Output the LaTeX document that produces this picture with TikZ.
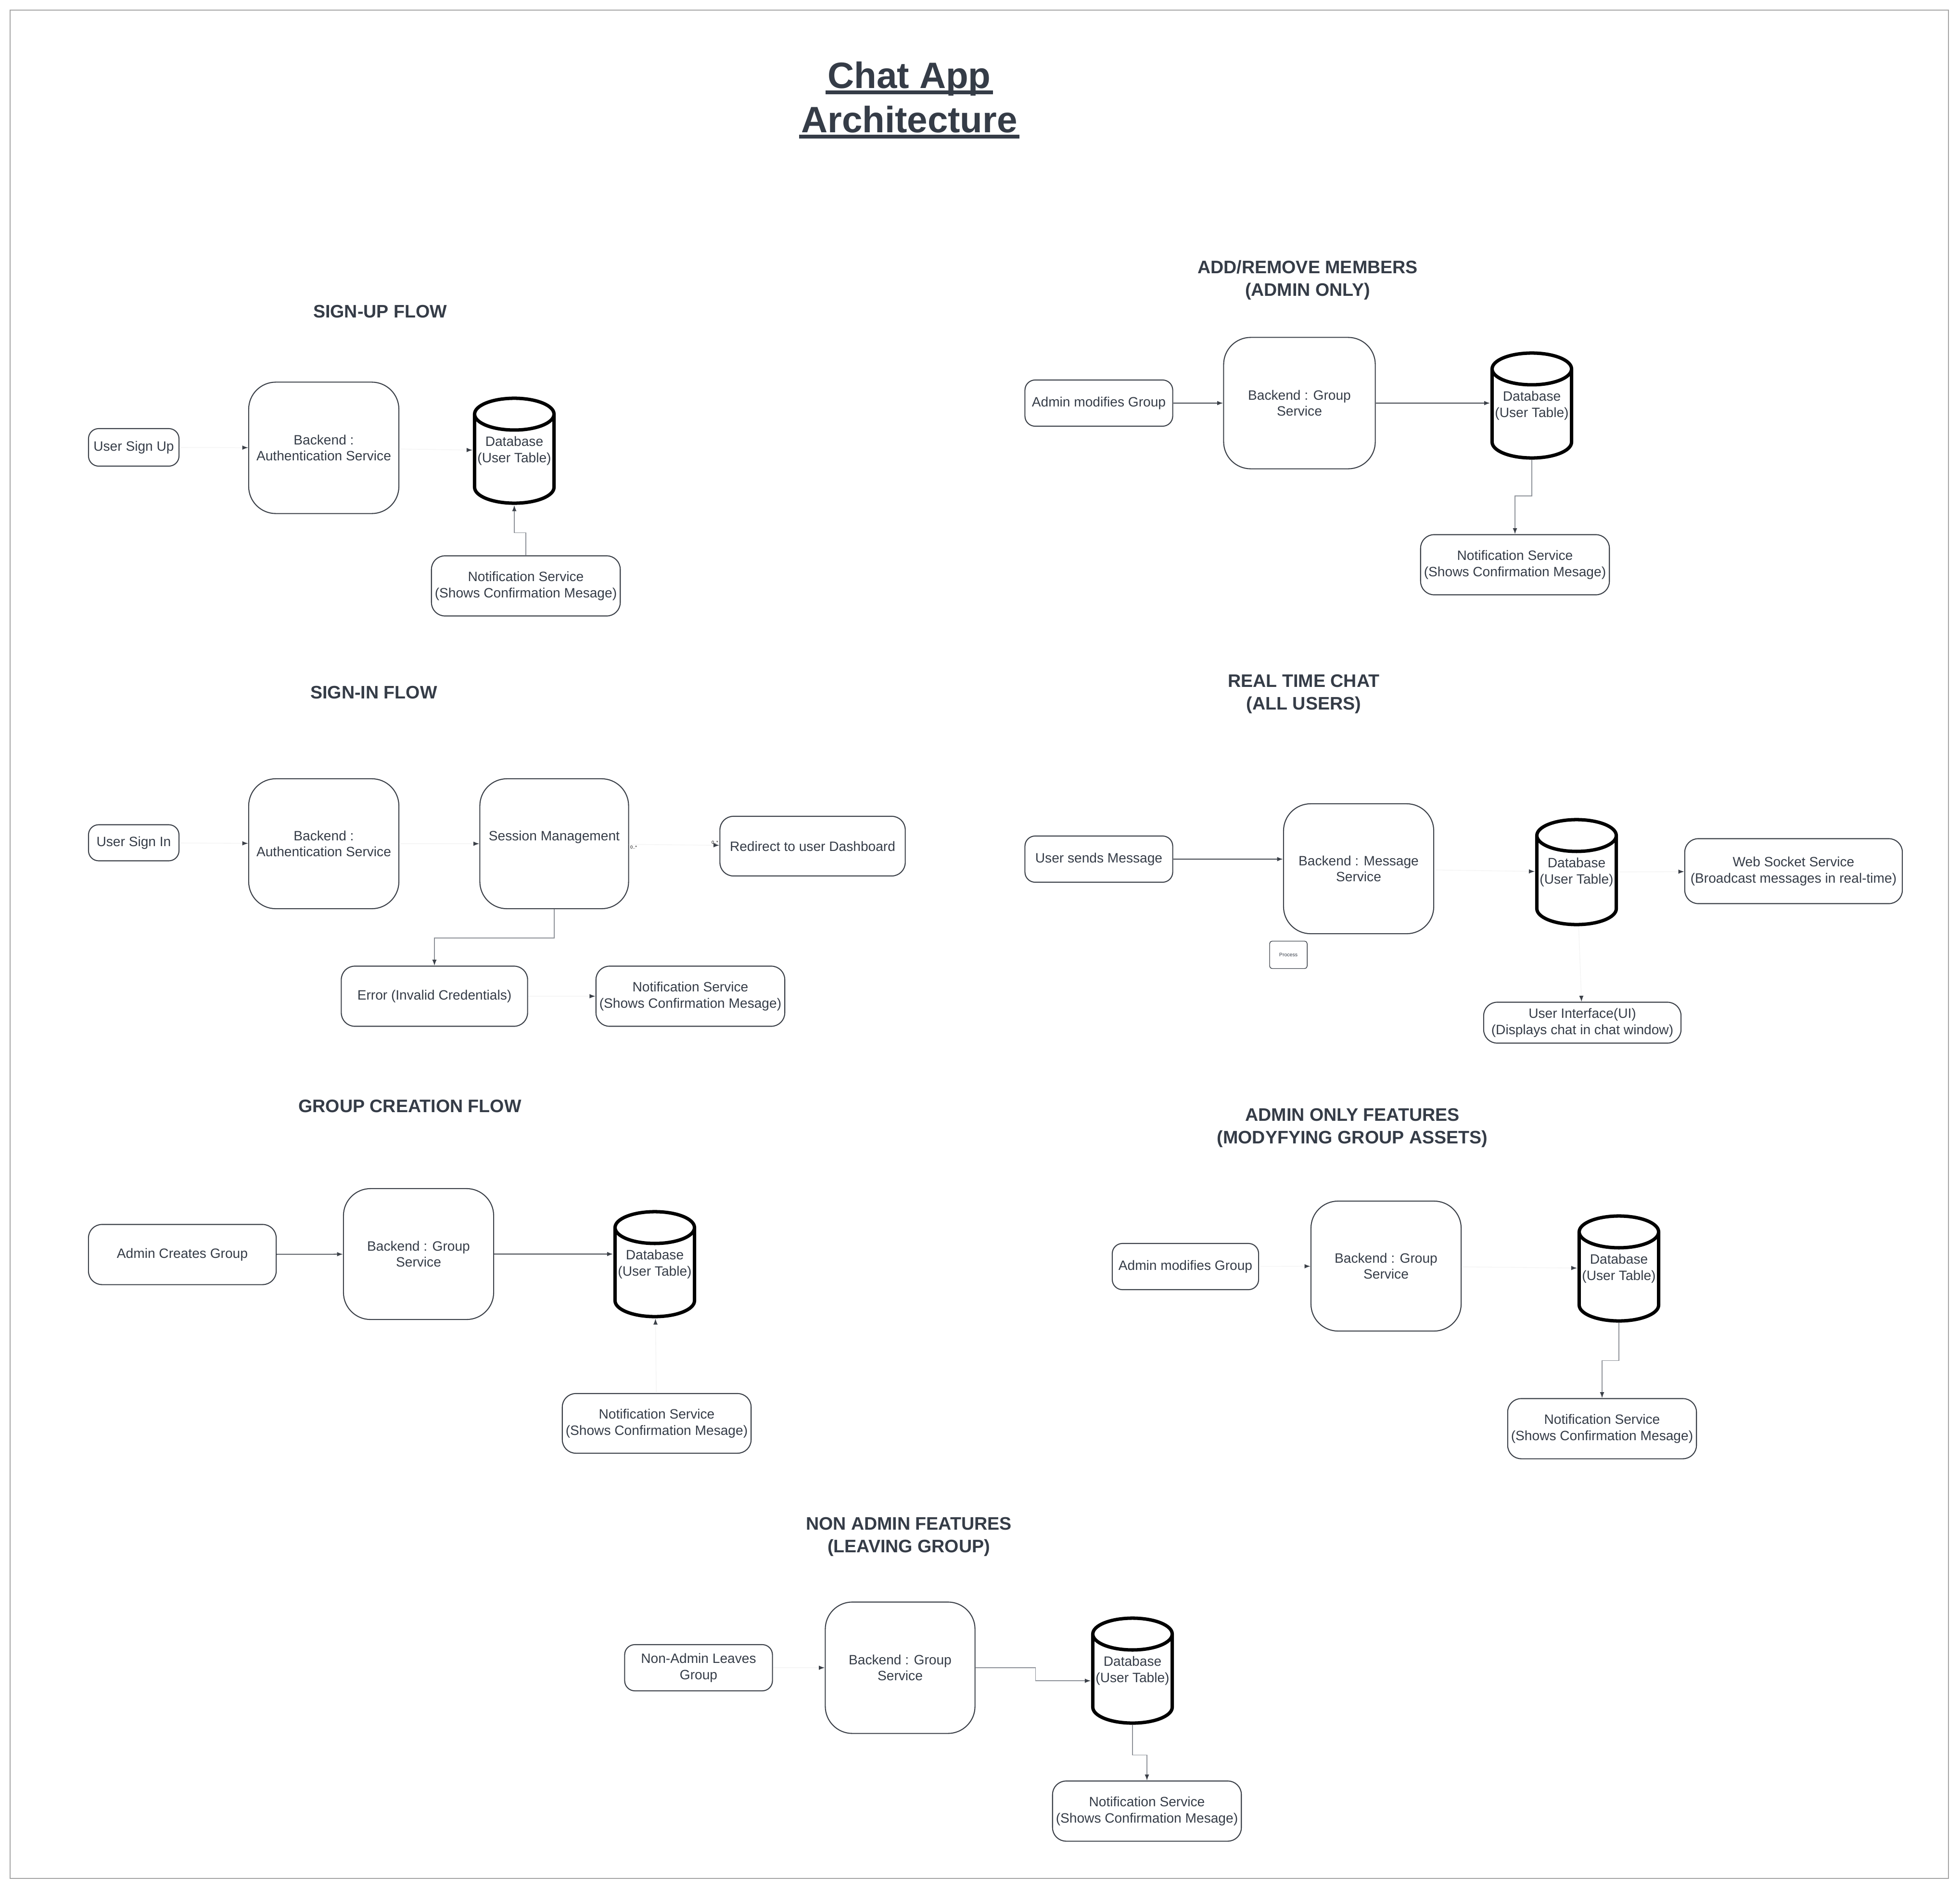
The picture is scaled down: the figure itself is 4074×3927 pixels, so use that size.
\documentclass[tikz,border=0pt]{standalone}
\usepackage{fontspec}
\setmainfont{Liberation Sans}
\usetikzlibrary{arrows.meta}

\definecolor{inkcol}{HTML}{353C47}
\definecolor{edgecol}{HTML}{3B4048}
\definecolor{softcol}{HTML}{8C9097}
\definecolor{framecol}{HTML}{A3A3A3}

\tikzset{
  box/.style={draw=edgecol, line width=0.6pt, rounded corners=6pt, fill=white, text=inkcol,
    align=center, inner sep=2pt, font=\fontsize{8}{9.6}\selectfont},
  tallbox/.style={box, rounded corners=16pt, minimum width=3.12cm, minimum height=2.72cm},
  notebox/.style={box, rounded corners=8pt, minimum width=3.87cm, minimum height=1.25cm},
  store/.style={rectangle, inner sep=0pt, minimum width=1.72cm, minimum height=2.25cm,
    text=inkcol, align=center, font=\fontsize{8}{9.6}\selectfont,
    execute at begin node={\rule{0pt}{11.6pt}},
    path picture={
      \draw[black, line width=2pt]
        ([shift={(-0.825cm,0.76cm)}]path picture bounding box.center) -- ++(0,-1.52cm)
        arc[start angle=180, end angle=360, x radius=0.825cm, y radius=0.33cm] -- ++(0,1.52cm)
        arc[start angle=0, end angle=180, x radius=0.825cm, y radius=0.33cm]
        arc[start angle=180, end angle=360, x radius=0.825cm, y radius=0.33cm];
    }},
  heading/.style={text=inkcol, align=center, font=\fontsize{10.7}{13.3}\selectfont\bfseries},
  maintitle/.style={text=inkcol, inner xsep=1pt, font=\fontsize{21.7}{26}\selectfont\bfseries},
  titlerule/.style={draw=inkcol, line width=2.1pt},
  conn/.style={draw=edgecol, line width=0.5pt, -{Latex[length=3.5pt,width=2.6pt]}},
  soft/.style={draw=softcol, line width=0.45pt, -{Latex[length=3.5pt,width=2.6pt,color=edgecol]}},
  ghost/.style={draw=black!4, line width=0.45pt, -{Latex[length=3.5pt,width=2.6pt,color=edgecol]}},
  tinytag/.style={text=black, inner sep=0.5pt, font=\fontsize{2.6}{3}\selectfont}
}

\begin{document}
\begin{tikzpicture}[x=0.01cm, y=-0.01cm]
    \fill[white] (0,0) rectangle (4074,3927);
    \useasboundingbox (0,0) rectangle (4074,3927);
    \draw[framecol, line width=0.5pt] (21,21) rectangle (4050,3905);

    \node[maintitle, anchor=base] (title-a) at (1890,184) {Chat App};
    \node[maintitle, anchor=base] (title-b) at (1890,276) {Architecture};
    \draw[titlerule] ([yshift=-2.3pt]title-a.base west) -- ([yshift=-2.3pt]title-a.base east);
    \draw[titlerule] ([yshift=-2.3pt]title-b.base west) -- ([yshift=-2.3pt]title-b.base east);

    \node[heading] (hd-signup) at (790,648) {SIGN-UP FLOW};
    \node[heading] (hd-members) at (2718,582) {ADD/REMOVE MEMBERS\\(ADMIN ONLY)};
    \node[heading] (hd-signin) at (777,1440) {SIGN-IN FLOW};
    \node[heading] (hd-chat) at (2710,1443) {REAL TIME CHAT\\(ALL USERS)};
    \node[heading] (hd-create) at (852,2300) {GROUP CREATION FLOW};
    \node[heading] (hd-admin) at (2811,2345) {ADMIN ONLY FEATURES\\(MODYFYING GROUP ASSETS)};
    \node[heading] (hd-leave) at (1889,3195) {NON ADMIN FEATURES\\(LEAVING GROUP)};

    \node[box, minimum width=1.88cm, minimum height=0.78cm] (su-user) at (278,930) {User Sign Up};
    \node[tallbox, minimum height=2.73cm] (su-auth) at (673,931) {Backend :\\Authentication Service};
    \node[store] (su-db) at (1069,937) {Database\\(User Table)};
    \node[notebox] (su-note) at (1093,1218) {Notification Service\\(Shows Confirmation Mesage)};

    \node[box, minimum width=1.88cm, minimum height=0.75cm] (si-user) at (278,1752) {User Sign In};
    \node[tallbox, minimum height=2.70cm] (si-auth) at (673,1754) {Backend :\\Authentication Service};
    \node[tallbox, minimum width=3.09cm, minimum height=2.70cm] (si-sess) at (1152,1754) {Session Management\\\mbox{}};
    \node[notebox, minimum width=3.85cm, minimum height=1.24cm] (si-dash) at (1689,1759) {Redirect to user Dashboard};
    \node[notebox] (si-err) at (903,2071) {Error (Invalid Credentials)};
    \node[notebox] (si-note) at (1435,2071) {Notification Service\\(Shows Confirmation Mesage)};

    \node[box, minimum width=3.07cm, minimum height=0.96cm] (am-admin) at (2284,838) {Admin modifies Group};
    \node[tallbox, minimum width=3.15cm, minimum height=2.73cm] (am-group) at (2701,838) {Backend : Group\\Service};
    \node[store] (am-db) at (3184,843) {Database\\(User Table)};
    \node[notebox, minimum width=3.90cm] (am-note) at (3149,1174) {Notification Service\\(Shows Confirmation Mesage)};

    \node[box, minimum width=3.07cm, minimum height=0.96cm] (rt-user) at (2284,1786) {User sends Message};
    \node[tallbox, minimum height=2.70cm] (rt-msg) at (2824,1806) {Backend : Message\\Service};
    \node[box, rounded corners=1.5pt, line width=0.4pt, minimum width=0.78cm, minimum height=0.57cm,
      font=\fontsize{3}{3.6}\selectfont] (rt-proc) at (2678,1985) {Process};
    \node[store] (rt-db) at (3277,1813) {Database\\(User Table)};
    \node[notebox, minimum width=4.52cm, minimum height=1.35cm] (rt-ws) at (3728,1811) {Web Socket Service\\(Broadcast messages in real-time)};
    \node[notebox, minimum width=4.10cm, minimum height=0.85cm] (rt-ui) at (3289,2126) {User Interface(UI)\\(Displays chat in chat window)};

    \node[notebox, minimum width=3.90cm] (gc-admin) at (379,2608) {Admin Creates Group};
    \node[tallbox] (gc-group) at (870,2607) {Backend : Group\\Service};
    \node[store] (gc-db) at (1361,2628) {Database\\(User Table)};
    \node[notebox, minimum height=1.24cm] (gc-note) at (1365,2959) {Notification Service\\(Shows Confirmation Mesage)};

    \node[box, minimum width=3.04cm, minimum height=0.96cm] (ao-admin) at (2464,2633) {Admin modifies Group};
    \node[tallbox, minimum height=2.70cm] (ao-group) at (2881,2632) {Backend : Group\\Service};
    \node[store] (ao-db) at (3365,2637) {Database\\(User Table)};
    \node[notebox] (ao-note) at (3330,2970) {Notification Service\\(Shows Confirmation Mesage)};

    \node[box, minimum width=3.07cm, minimum height=0.96cm] (na-user) at (1452,3467) {Non-Admin Leaves\\Group};
    \node[tallbox, minimum width=3.11cm, minimum height=2.73cm] (na-group) at (1871,3467) {Backend : Group\\Service};
    \node[store] (na-db) at (2354,3473) {Database\\(User Table)};
    \node[notebox] (na-note) at (2384,3765) {Notification Service\\(Shows Confirmation Mesage)};

    \draw[ghost] (su-user) -- (su-auth);
    \draw[ghost] (su-auth) -- (su-db);
    \draw[soft] (su-note.north) -- ++(0,-47) -| (su-db.south);

    \draw[ghost] (si-user) -- (si-auth);
    \draw[ghost] (si-auth) -- (si-sess);
    \draw[ghost] (si-sess) -- (si-dash)
      node[tinytag, pos=0, anchor=north west] {0..*}
      node[tinytag, pos=1, anchor=south east] {0..*};
    \draw[soft] (si-sess.south) -- ++(0,60) -| (si-err.north);
    \draw[ghost] (si-err) -- (si-note);

    \draw[conn] (am-admin) -- (am-group);
    \draw[conn] (am-group.east) -- (am-group.east -| am-db.west);
    \draw[soft] (am-db.south) -- ++(0,75) -| (am-note.north);

    \draw[conn] (rt-user.east) -- (rt-user.east -| rt-msg.west);
    \draw[ghost] (rt-msg) -- (rt-db);
    \draw[ghost] (rt-db) -- (rt-ws);
    \draw[ghost] (rt-db) -- (rt-ui);

    \draw[conn] (gc-admin) -- (gc-group);
    \draw[conn] (gc-group.east) -- (gc-group.east -| gc-db.west);
    \draw[ghost] (gc-note) -- (gc-db);

    \draw[ghost] (ao-admin) -- (ao-group);
    \draw[ghost] (ao-group) -- (ao-db);
    \draw[soft] (ao-db.south) -- ++(0,78) -| (ao-note.north);

    \draw[ghost] (na-user) -- (na-group);
    \draw[soft] (na-group.east) -- ++(125,0) |- ([yshift=-6pt]na-db.west);
    \draw[soft] (na-db.south) -- ++(0,62) -| (na-note.north);
\end{tikzpicture}
\end{document}
